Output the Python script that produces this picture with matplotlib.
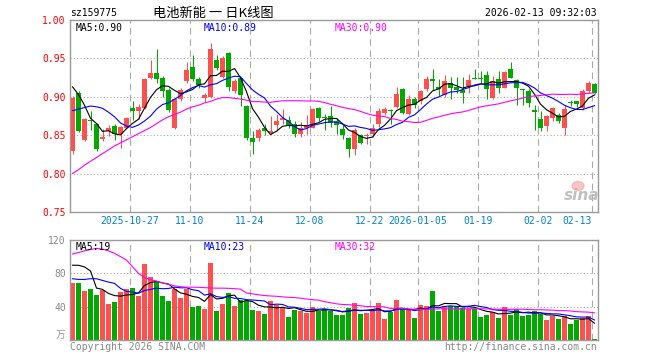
import numpy as np
import matplotlib.pyplot as plt
from matplotlib.patches import Ellipse

# daily K-line data, 88 trading days ending 2026-02-13
opens = [0.830, 0.905, 0.844, 0.869, 0.865, 0.845, 0.856, 0.862, 0.851, 0.860,
         0.886, 0.881, 0.885, 0.925, 0.931, 0.925, 0.909, 0.860, 0.897, 0.920,
         0.939, 0.923, 0.899, 0.900, 0.948, 0.926, 0.957, 0.907, 0.924, 0.888,
         0.847, 0.846, 0.859, 0.853, 0.863, 0.870, 0.870, 0.865, 0.852, 0.860,
         0.860, 0.886, 0.874, 0.875, 0.868, 0.858, 0.847, 0.832, 0.850, 0.849,
         0.852, 0.865, 0.879, 0.883, 0.887, 0.910, 0.878, 0.897, 0.894, 0.910,
         0.923, 0.913, 0.902, 0.918, 0.913, 0.909, 0.914, 0.9245, 0.9245, 0.928,
         0.898, 0.923, 0.912, 0.936, 0.922, 0.910, 0.907, 0.883, 0.871, 0.862,
         0.873, 0.876, 0.859, 0.893, 0.894, 0.885, 0.907, 0.917]
closes = [0.899, 0.856, 0.871, 0.868, 0.832, 0.848, 0.860, 0.851, 0.861, 0.873,
          0.882, 0.887, 0.923, 0.931, 0.923, 0.908, 0.883, 0.897, 0.909, 0.935,
          0.923, 0.915, 0.902, 0.962, 0.937, 0.951, 0.913, 0.921, 0.902, 0.846,
          0.841, 0.857, 0.855, 0.855, 0.868, 0.873, 0.863, 0.851, 0.860, 0.863,
          0.884, 0.873, 0.873, 0.866, 0.863, 0.850, 0.832, 0.857, 0.840, 0.850,
          0.859, 0.881, 0.884, 0.882, 0.904, 0.879, 0.897, 0.889, 0.908, 0.923,
          0.921, 0.910, 0.920, 0.912, 0.909, 0.905, 0.922, 0.9235, 0.9235, 0.910,
          0.920, 0.912, 0.932, 0.925, 0.911, 0.909, 0.892, 0.880, 0.860, 0.875,
          0.886, 0.868, 0.884, 0.892, 0.890, 0.907, 0.918, 0.905]
highs = [0.901, 0.907, 0.872, 0.882, 0.866, 0.858, 0.863, 0.864, 0.862, 0.874,
         0.894, 0.890, 0.925, 0.948, 0.962, 0.927, 0.912, 0.898, 0.912, 0.945,
         0.954, 0.926, 0.905, 0.970, 0.954, 0.953, 0.958, 0.923, 0.925, 0.889,
         0.856, 0.860, 0.865, 0.875, 0.877, 0.884, 0.875, 0.869, 0.867, 0.876,
         0.885, 0.887, 0.878, 0.888, 0.873, 0.863, 0.848, 0.860, 0.852, 0.853,
         0.864, 0.885, 0.887, 0.884, 0.913, 0.911, 0.902, 0.900, 0.909, 0.927,
         0.936, 0.923, 0.929, 0.926, 0.926, 0.926, 0.930, 0.936, 0.933, 0.933,
         0.927, 0.933, 0.933, 0.945, 0.923, 0.910, 0.910, 0.889, 0.882, 0.876,
         0.887, 0.879, 0.889, 0.896, 0.894, 0.910, 0.920, 0.918]
lows = [0.826, 0.854, 0.842, 0.857, 0.830, 0.842, 0.849, 0.844, 0.833, 0.859,
        0.870, 0.871, 0.884, 0.923, 0.918, 0.900, 0.880, 0.858, 0.895, 0.918,
        0.921, 0.912, 0.893, 0.899, 0.935, 0.924, 0.908, 0.905, 0.888, 0.844,
        0.826, 0.843, 0.850, 0.852, 0.855, 0.865, 0.859, 0.848, 0.848, 0.851,
        0.859, 0.868, 0.857, 0.861, 0.851, 0.845, 0.822, 0.824, 0.839, 0.838,
        0.848, 0.861, 0.876, 0.865, 0.885, 0.878, 0.876, 0.885, 0.891, 0.908,
        0.909, 0.901, 0.900, 0.897, 0.905, 0.892, 0.905, 0.923, 0.918, 0.897,
        0.897, 0.905, 0.911, 0.924, 0.889, 0.889, 0.887, 0.857, 0.855, 0.855,
        0.868, 0.866, 0.850, 0.888, 0.887, 0.883, 0.905, 0.904]
volumes = [68.3, 68.3, 58.6, 61.8, 54.5, 60.6, 43.6, 46.1, 58.2, 61.8,
           63.0, 53.3, 90.9, 75.2, 69.5, 53.3, 47.3, 61.4, 50.9, 61.8,
           40.0, 41.2, 37.6, 92.1, 35.2, 43.6, 57.0, 41.2, 48.5, 47.3,
           36.4, 35.2, 31.5, 47.3, 42.4, 40.0, 27.9, 36.4, 35.2, 32.7,
           40.0, 35.2, 37.6, 35.2, 30.3, 30.3, 38.8, 44.8, 31.5, 32.7,
           35.2, 44.8, 25.5, 33.9, 48.5, 37.6, 36.4, 26.7, 42.4, 41.2,
           59.4, 35.2, 41.2, 41.2, 41.2, 38.8, 37.6, 37.6, 27.9, 30.3,
           33.9, 26.7, 40.0, 30.3, 37.6, 29.1, 30.3, 35.2, 31.5, 24.2,
           29.1, 25.5, 29.1, 19.4, 24.2, 26.7, 29.1, 1.2]

# moving-average values before the window has enough history
ma5_head = [0.913, 0.903, 0.889, 0.872]
ma10_head = [0.882, 0.884, 0.886, 0.888, 0.887, 0.885, 0.880, 0.874, 0.866]
ma30_head = [0.800, 0.805, 0.811, 0.816, 0.821, 0.826, 0.831, 0.836, 0.840, 0.844,
             0.848, 0.852, 0.856, 0.860, 0.865, 0.870, 0.874, 0.877, 0.880, 0.884,
             0.887, 0.889, 0.892, 0.894, 0.897, 0.899, 0.899, 0.898, 0.897]
vma5_head = [89.7, 89.7, 87.7, 82.8]
vma10_head = [73.5, 72.7, 72.7, 73.5, 73.5, 71.5, 69.5, 67.9, 62.0]
vma30_head = [103, 105, 107, 108.5, 110, 109, 107, 104, 100, 96,
              88, 80, 75, 72.5, 70.7, 68.5, 66.7, 65, 64, 63.4,
              63.4, 63.2, 62.8, 62.4, 62.2, 62.2, 62, 61.6, 61]

tick_idx = [10, 20, 30, 40, 50, 58, 68, 78, 87]
tick_labels = ['2025-10-27', '11-10', '11-24', '12-08', '12-22',
               '2026-01-05', '01-19', '02-02', '02-13']
price_labels = ['MA5:0.90', 'MA10:0.89', 'MA30:0.90']
vol_labels = ['MA5:19', 'MA10:23', 'MA30:32']


def moving_avg(values, n, head):
    out = list(head)
    for i in range(len(head), len(values)):
        out.append(np.mean(values[i - n + 1:i + 1]))
    return out


RED = '#ff5050'
GREEN = '#00a800'
GRID = '#aaaaaa'
MONO = 'DejaVu Sans Mono'
LW = 0.8

o = np.array(opens)
c = np.array(closes)
h = np.array(highs)
l = np.array(lows)
v = np.array(volumes)
x = np.arange(len(o))
up = c >= o
colors = np.where(up, RED, GREEN)

fig = plt.figure(figsize=(6.6, 3.6), dpi=100)
ax = fig.add_axes([70 / 660, 148 / 360, 528 / 660, 192 / 360])
axv = fig.add_axes([70 / 660, 20 / 360, 528 / 660, 100 / 360])

xmin, xmax = -0.4167, len(o) - 0.4167
grid_x = [i - 0.4167 for i in tick_idx]

# price panel
ax.vlines(x, l, h, colors=colors, linewidth=0.75)
body = np.maximum(np.abs(c - o), 0.0012)
ax.bar(x, body, bottom=np.minimum(o, c), width=0.83, color=colors, linewidth=0)
ax.plot(x, moving_avg(closes, 5, ma5_head), color='black', lw=LW)
ax.plot(x, moving_avg(closes, 10, ma10_head), color='#0000ff', lw=LW)
ax.plot(x, moving_avg(closes, 30, ma30_head), color='#ff00ff', lw=LW)
for yv in [0.80, 0.85, 0.90, 0.95]:
    ax.axhline(yv, color=GRID, lw=0.8, ls=(0, (1, 2)), zorder=0)
for gx in grid_x:
    ax.axvline(gx, color=GRID, lw=0.8, ls=(0, (6, 4)), zorder=0)
ax.set_xlim(xmin, xmax)
ax.set_ylim(0.75, 1.00)
ax.set_yticks([0.75, 0.80, 0.85, 0.90, 0.95, 1.00])
ax.set_yticklabels(['%.2f' % t for t in ax.get_yticks()], fontfamily=MONO,
                   fontsize=7, color='#ff0000')
ax.set_xticks(grid_x)
ax.set_xticklabels(tick_labels, fontfamily=MONO, fontsize=7, color='#0080d0')
ax.get_xticklabels()[-1].set_ha('right')
ax.tick_params(length=0, pad=3)

ax.text(0.01, 0.985, price_labels[0], transform=ax.transAxes, va='top',
        fontfamily=MONO, fontsize=7, color='black')
ax.text(0.254, 0.985, price_labels[1], transform=ax.transAxes, va='top',
        fontfamily=MONO, fontsize=7, color='#0000ff')
ax.text(0.502, 0.985, price_labels[2], transform=ax.transAxes, va='top',
        fontfamily=MONO, fontsize=7, color='#ff00ff')

# volume panel
axv.bar(x, v, width=0.83, color=colors, linewidth=0)
axv.plot(x, moving_avg(volumes, 5, vma5_head), color='black', lw=LW)
axv.plot(x, moving_avg(volumes, 10, vma10_head), color='#0000ff', lw=LW)
axv.plot(x, moving_avg(volumes, 30, vma30_head), color='#ff00ff', lw=LW)
for yv in [40, 80]:
    axv.axhline(yv, color=GRID, lw=0.8, ls=(0, (1, 2)), zorder=0)
for gx in grid_x:
    axv.axvline(gx, color=GRID, lw=0.8, ls=(0, (6, 4)), zorder=0)
axv.set_xlim(xmin, xmax)
axv.set_ylim(0, 120)
axv.set_xticks([])
axv.set_yticks([40, 80, 120])
axv.set_yticklabels(['40', '80', '120'], fontfamily=MONO, fontsize=7, color='#888888')
axv.tick_params(length=0, pad=3)
axv.text(-0.008, 0.0, '万', transform=axv.transAxes, ha='right', va='bottom',
         fontfamily=['Noto Sans CJK SC'], fontsize=7, color='#999999')

axv.text(0.01, 0.985, vol_labels[0], transform=axv.transAxes, va='top',
         fontfamily=MONO, fontsize=7, color='black')
axv.text(0.254, 0.985, vol_labels[1], transform=axv.transAxes, va='top',
         fontfamily=MONO, fontsize=7, color='#0000ff')
axv.text(0.502, 0.985, vol_labels[2], transform=axv.transAxes, va='top',
         fontfamily=MONO, fontsize=7, color='#ff00ff')

for a in (ax, axv):
    for s in a.spines.values():
        s.set_color('#999999')
        s.set_linewidth(1)

# header and footer
fig.text(70 / 660, 1 - 13 / 360, 'sz159775', ha='left', va='center',
         fontfamily=MONO, fontsize=7)
fig.text(213 / 660, 1 - 13 / 360, '电池新能 一 日K线图', ha='center', va='center',
         fontfamily=['Noto Sans CJK SC', 'DejaVu Sans'], fontsize=9.5)
fig.text(597 / 660, 1 - 13 / 360, '2026-02-13 09:32:03', ha='right', va='center',
         fontfamily=MONO, fontsize=7)
fig.text(70 / 660, 1 - 347 / 360, 'Copyright 2026 SINA.COM', ha='left', va='center',
         fontfamily=MONO, fontsize=7, color='#888888')
fig.text(597 / 660, 1 - 347 / 360, 'http://finance.sina.com.cn', ha='right', va='center',
         fontfamily=MONO, fontsize=7, color='#888888')

# sina watermark
fig.text(582 / 660, 1 - 196 / 360, 'sina', ha='center', va='center', fontsize=11,
         fontweight='bold', fontstyle='italic', color='#b0b0b0', alpha=0.8)
fig.add_artist(Ellipse((578 / 660, 1 - 186 / 360), 12 / 660, 9 / 360,
                       transform=fig.transFigure, color='#f4a0a0', alpha=0.6))

fig.savefig('out.png', dpi=100)
